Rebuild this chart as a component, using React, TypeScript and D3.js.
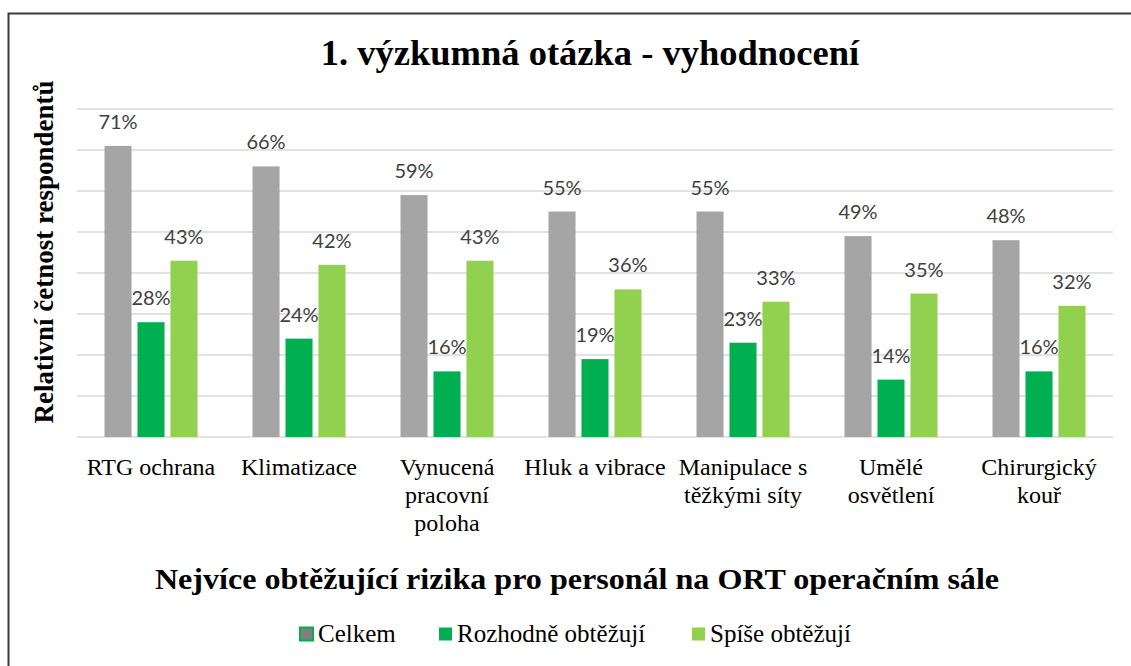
import React from "react";
import * as d3 from "d3";

const categories: string[][] = [
  ["RTG ochrana"],
  ["Klimatizace"],
  ["Vynucená", "pracovní", "poloha"],
  ["Hluk a vibrace"],
  ["Manipulace s", "těžkými síty"],
  ["Umělé", "osvětlení"],
  ["Chirurgický", "kouř"],
];
const seriesNames = ["Celkem", "Rozhodně obtěžují", "Spíše obtěžují"];
const celkem = [0.71, 0.66, 0.59, 0.55, 0.55, 0.49, 0.48];
const rozhodne = [0.28, 0.24, 0.16, 0.19, 0.23, 0.14, 0.16];
const spise = [0.43, 0.42, 0.43, 0.36, 0.33, 0.35, 0.32];
const gridTicks = [0, 0.1, 0.2, 0.3, 0.4, 0.5, 0.6, 0.7, 0.8];

const title = "1. výzkumná otázka - vyhodnocení";
const yTitle = "Relativní četnost respondentů";
const xTitle = "Nejvíce obtěžující rizika pro personál na ORT operačním sále";

const colors = ["#A5A5A5", "#00B050", "#92D050"];
const serif = "'Liberation Serif', 'Times New Roman', serif";
const sans = "Lato, 'Open Sans', sans-serif";

export default function App() {
  const W = 1131;
  const H = 666;
  const left = 77;
  const right = 1113;
  const top = 109;
  const bottom = 437;
  const seriesValues = [celkem, rozhodne, spise];
  const catIdx = categories.map((_, i) => String(i));
  const x = d3.scaleBand<string>().domain(catIdx).range([left, right]);
  const inner = d3
    .scaleBand<string>()
    .domain(seriesNames)
    .range([-46.5, 46.5])
    .paddingInner(0.18);
  const y = d3.scaleLinear().domain([0, 0.8]).range([bottom, top]);
  const pct = d3.format(".0%");

  // legend layout
  const legendFont = 25;
  const legendWidths = [85, 199, 148];
  const sq = 13;
  const gapSq = 5;
  const gapItem = 36;
  const totalLegend =
    legendWidths.reduce((a, b) => a + b, 0) +
    legendWidths.length * (sq + gapSq) +
    (legendWidths.length - 1) * gapItem;
  let lx = 579 - totalLegend / 2;
  const legendItems = seriesNames.map((name, i) => {
    const pos = lx;
    lx += sq + gapSq + legendWidths[i] + gapItem;
    return { name, pos, color: colors[i] };
  });

  return (
    <svg
      width={W}
      height={H}
      style={{ position: "absolute", left: 0, top: 0, background: "#fff" }}
    >
      <rect x={0} y={0} width={W} height={H} fill="#fff" />
      <path
        d={`M8.5,${H} L8.5,13.5 L${W},13.5`}
        fill="none"
        stroke="#3a3a3a"
        strokeWidth={2}
      />
      <text
        x={590}
        y={65}
        textAnchor="middle"
        fontFamily={serif}
        fontWeight="bold"
        fontSize={36.5}
        fill="#000"
      >
        {title}
      </text>
      <text
        transform={`translate(53,252) rotate(-90)`}
        textAnchor="middle"
        fontFamily={serif}
        fontWeight="bold"
        fontSize={27}
        fill="#000"
      >
        {yTitle}
      </text>
      {gridTicks.map((t) => (
        <line
          key={t}
          x1={left}
          x2={right}
          y1={y(t)}
          y2={y(t)}
          stroke="#D9D9D9"
          strokeWidth={1.5}
        />
      ))}
      {categories.map((cat, ci) =>
        seriesNames.map((s, si) => {
          const v = seriesValues[si][ci];
          const cx = x(String(ci))! + x.bandwidth() / 2;
          const bx = cx + inner(s)!;
          return (
            <g key={`${ci}-${si}`}>
              <rect
                x={bx}
                y={y(v)}
                width={inner.bandwidth()}
                height={y(0) - y(v)}
                fill={colors[si]}
              />
              <text
                x={bx + inner.bandwidth() / 2}
                y={y(v) - 17}
                textAnchor="middle"
                fontFamily={sans}
                fontSize={20}
                fill="#404040"
              >
                {pct(v)}
              </text>
            </g>
          );
        })
      )}
      {categories.map((lines, ci) => {
        const cx = x(String(ci))! + x.bandwidth() / 2;
        return (
          <text
            key={ci}
            x={cx}
            y={475}
            textAnchor="middle"
            fontFamily={serif}
            fontSize={24}
            fill="#000"
          >
            {lines.map((l, li) => (
              <tspan key={li} x={cx} dy={li === 0 ? 0 : 28}>
                {l}
              </tspan>
            ))}
          </text>
        );
      })}
      <g transform="translate(577,589) scale(1.07,1)">
        <text
          x={0}
          y={0}
          textAnchor="middle"
          fontFamily={serif}
          fontWeight="bold"
          fontSize={30}
          fill="#000"
        >
          {xTitle}
        </text>
      </g>
      {legendItems.map((it, i) => (
        <g key={it.name}>
          <rect
            x={it.pos}
            y={634 - sq / 2}
            width={sq}
            height={sq}
            fill={i === 0 ? "#808080" : it.color}
            stroke={i === 0 ? "#00B050" : "none"}
            strokeWidth={i === 0 ? 2 : 0}
          />
          <text
            x={it.pos + sq + gapSq}
            y={642}
            fontFamily={serif}
            fontSize={legendFont}
            fill="#000"
          >
            {it.name}
          </text>
        </g>
      ))}
    </svg>
  );
}
